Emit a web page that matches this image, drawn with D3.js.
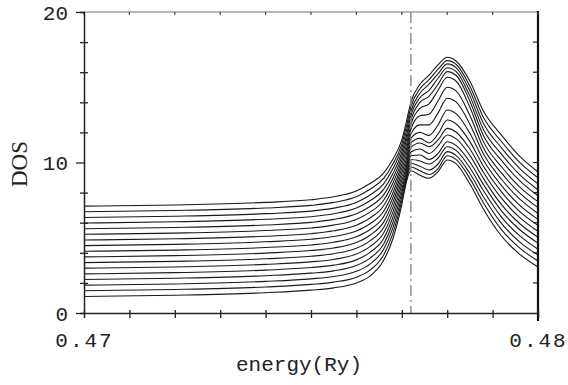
<!DOCTYPE html>
<html>
<head>
<meta charset="utf-8">
<script src="https://cdn.jsdelivr.net/npm/d3@7"></script>
<style>
  body { margin: 0; background: #fff; }
  svg { display: block; }
  .lbl { font-family: "Liberation Mono", monospace; fill: #222; }
</style>
</head>
<body>
<svg id="chart" width="568" height="385"></svg>
<script>
// energy grid (Ry) shared by all curves
const energy = [0.4700, 0.4720, 0.4740, 0.4750, 0.4755, 0.4760, 0.4763, 0.4766, 0.4768, 0.4770, 0.4771,
                0.4772, 0.4774, 0.4776, 0.4778, 0.4780, 0.4782, 0.4785, 0.4788, 0.4792, 0.4796, 0.4800];

// DOS curves, top (highest background) to bottom
const dos01 = [7.10, 7.18, 7.35, 7.52, 7.72, 8.10, 8.60, 9.30, 10.20, 11.50, 12.70, 14.00, 15.20, 15.80, 16.50, 16.99, 16.73, 15.40, 13.40, 11.80, 10.40, 9.37];
const dos02 = [6.73, 6.81, 6.98, 7.15, 7.35, 7.73, 8.22, 8.94, 9.88, 11.22, 12.38, 13.70, 14.90, 15.50, 16.20, 16.77, 16.51, 15.07, 12.99, 11.38, 9.99, 8.98];
const dos03 = [6.35, 6.43, 6.60, 6.77, 6.97, 7.35, 7.84, 8.58, 9.56, 10.95, 12.07, 13.40, 14.60, 15.20, 15.90, 16.55, 16.29, 14.75, 12.59, 10.96, 9.59, 8.58];
const dos04 = [5.98, 6.06, 6.23, 6.40, 6.60, 6.98, 7.46, 8.21, 9.24, 10.68, 11.76, 13.10, 14.30, 14.80, 15.60, 16.30, 16.04, 14.41, 12.18, 10.54, 9.18, 8.19];
const dos05 = [5.60, 5.68, 5.85, 6.02, 6.22, 6.60, 7.08, 7.85, 8.92, 10.41, 11.45, 12.80, 14.00, 14.40, 15.20, 16.04, 15.78, 14.07, 11.78, 10.12, 8.78, 7.79];
const dos06 = [5.23, 5.31, 5.48, 5.65, 5.84, 6.22, 6.70, 7.49, 8.60, 10.14, 11.14, 12.50, 13.60, 13.90, 14.80, 15.66, 15.40, 13.67, 11.37, 9.70, 8.37, 7.40];
const dos07 = [4.85, 4.93, 5.10, 5.27, 5.46, 5.83, 6.31, 7.13, 8.28, 9.87, 10.83, 12.20, 13.10, 13.20, 14.10, 15.00, 14.74, 13.12, 10.96, 9.29, 7.96, 7.00];
const dos08 = [4.48, 4.56, 4.73, 4.90, 5.08, 5.45, 5.93, 6.76, 7.96, 9.60, 10.52, 11.90, 12.50, 12.50, 13.30, 14.27, 14.01, 12.54, 10.56, 8.87, 7.56, 6.61];
const dos09 = [4.10, 4.18, 4.35, 4.52, 4.70, 5.07, 5.55, 6.40, 7.64, 9.33, 10.22, 11.60, 12.00, 11.80, 12.50, 13.49, 13.23, 11.94, 10.15, 8.45, 7.15, 6.22];
const dos10 = [3.73, 3.81, 3.98, 4.15, 4.32, 4.68, 5.17, 6.04, 7.32, 9.06, 9.95, 11.30, 11.60, 11.30, 11.90, 12.82, 12.56, 11.39, 9.74, 8.03, 6.74, 5.82];
const dos11 = [3.35, 3.43, 3.60, 3.77, 3.94, 4.30, 4.79, 5.68, 7.00, 8.79, 9.70, 11.00, 11.30, 11.05, 11.50, 12.27, 12.01, 10.90, 9.34, 7.61, 6.34, 5.43];
const dos12 = [2.98, 3.06, 3.23, 3.40, 3.56, 3.92, 4.41, 5.31, 6.67, 8.52, 9.48, 10.70, 10.90, 10.60, 11.10, 11.83, 11.57, 10.47, 8.93, 7.19, 5.93, 5.03];
const dos13 = [2.60, 2.68, 2.85, 3.02, 3.18, 3.53, 4.03, 4.95, 6.33, 8.25, 9.28, 10.45, 10.50, 10.20, 10.60, 11.38, 11.12, 10.03, 8.53, 6.77, 5.53, 4.64];
const dos14 = [2.23, 2.31, 2.48, 2.65, 2.80, 3.15, 3.65, 4.59, 5.98, 7.98, 9.10, 10.20, 10.10, 9.90, 10.30, 11.05, 10.79, 9.65, 8.12, 6.35, 5.12, 4.24];
const dos15 = [1.85, 1.93, 2.10, 2.27, 2.42, 2.77, 3.25, 4.23, 5.62, 7.71, 8.95, 9.95, 9.75, 9.50, 9.90, 10.72, 10.46, 9.27, 7.71, 5.94, 4.71, 3.85];
const dos16 = [1.48, 1.56, 1.73, 1.90, 2.05, 2.38, 2.85, 3.86, 5.26, 7.45, 8.82, 9.70, 9.45, 9.20, 9.60, 10.45, 10.19, 8.93, 7.31, 5.52, 4.31, 3.45];
const dos17 = [1.10, 1.18, 1.35, 1.52, 1.67, 2.00, 2.45, 3.50, 4.90, 7.20, 8.70, 9.45, 9.15, 8.95, 9.40, 10.17, 9.91, 8.57, 6.90, 5.10, 3.90, 3.06];
const curves = [dos01, dos02, dos03, dos04, dos05, dos06, dos07, dos08, dos09, dos10, dos11, dos12, dos13, dos14, dos15, dos16, dos17];

const fermiEnergy = 0.4772;
const xTicks = d3.range(0, 11).map(i => 0.47 + i * 0.001);
const xTickLabels = { "0.470": "0.47", "0.480": "0.48" };
const yTicks = [0, 2, 4, 6, 8, 10, 12, 14, 16, 18, 20];
const yTickLabels = [0, 10, 20];

const svg = d3.select('#chart');
const x = d3.scaleLinear().domain([0.47, 0.48]).range([84, 538]);
const y = d3.scaleLinear().domain([0, 20]).range([313, 12]);

// curves
const line = d3.line()
    .x((d, i) => x(energy[i]))
    .y(d => y(d))
    .curve(d3.curveMonotoneX);

svg.append('g').selectAll('path')
    .data(curves)
    .enter().append('path')
    .attr('d', line)
    .attr('fill', 'none')
    .attr('stroke', '#1a1a1a')
    .attr('stroke-width', 1.1);

// fermi level marker
svg.append('line')
    .attr('x1', x(fermiEnergy)).attr('x2', x(fermiEnergy))
    .attr('y1', y(20)).attr('y2', y(0))
    .attr('stroke', '#888')
    .attr('stroke-width', 1.4)
    .attr('stroke-dasharray', '11,4,2,4');

// frame
svg.append('line').attr('x1', x(0.47)).attr('x2', x(0.48)).attr('y1', y(20)).attr('y2', y(20))
    .attr('stroke', '#777').attr('stroke-width', 1.2);
svg.append('line').attr('x1', x(0.48)).attr('x2', x(0.48)).attr('y1', y(20) - 1).attr('y2', y(0) + 8)
    .attr('stroke', '#111').attr('stroke-width', 2.2);

// bottom axis
const xAxis = svg.append('g')
    .attr('transform', `translate(0,${y(0)})`)
    .call(d3.axisBottom(x).tickValues(xTicks).tickSize(5).tickPadding(14)
        .tickFormat(d => xTickLabels[d.toFixed(3)] || ''));
xAxis.select('.domain').attr('stroke', '#222').attr('stroke-width', 1.3);
xAxis.selectAll('.tick line').attr('y1', -3).attr('stroke', '#222').attr('stroke-width', 1.3);
xAxis.selectAll('text').attr('class', 'lbl').style('font-size', '21px').style('letter-spacing', '2px');

// top ticks (inward)
svg.append('g').selectAll('line')
    .data(xTicks)
    .enter().append('line')
    .attr('x1', d => x(d)).attr('x2', d => x(d))
    .attr('y1', y(20)).attr('y2', y(20) + 3)
    .attr('stroke', '#444').attr('stroke-width', 1.2);

// left axis
const yAxis = svg.append('g')
    .attr('transform', `translate(${x(0.47)},0)`)
    .call(d3.axisLeft(y).tickValues(yTicks).tickSize(4).tickPadding(12)
        .tickFormat(d => yTickLabels.includes(d) ? d : ''));
yAxis.select('.domain').attr('stroke', '#222').attr('stroke-width', 1.5);
yAxis.selectAll('.tick line')
    .attr('x1', d => yTickLabels.includes(d) ? -8 : -4)
    .attr('x2', d => yTickLabels.includes(d) ? 0 : 4)
    .attr('stroke', '#222').attr('stroke-width', 1.3);
yAxis.selectAll('text').attr('class', 'lbl').style('font-size', '21px').attr('dy', '0.35em');

// right ticks (inward)
svg.append('g').selectAll('line')
    .data(yTicks.filter(d => d > 0 && d < 20))
    .enter().append('line')
    .attr('x1', x(0.48) - 5).attr('x2', x(0.48))
    .attr('y1', d => y(d)).attr('y2', d => y(d))
    .attr('stroke', '#222').attr('stroke-width', 1.2);

// axis titles
svg.append('text')
    .attr('class', 'lbl')
    .attr('x', 299).attr('y', 371)
    .attr('text-anchor', 'middle')
    .style('font-size', '21px')
    .text('energy(Ry)');

svg.append('text')
    .attr('class', 'lbl')
    .attr('transform', 'translate(27,164) rotate(-90)')
    .attr('text-anchor', 'middle')
    .style('font-size', '23px')
    .style('font-family', '"Liberation Serif", serif')
    .text('DOS');
</script>
</body>
</html>
